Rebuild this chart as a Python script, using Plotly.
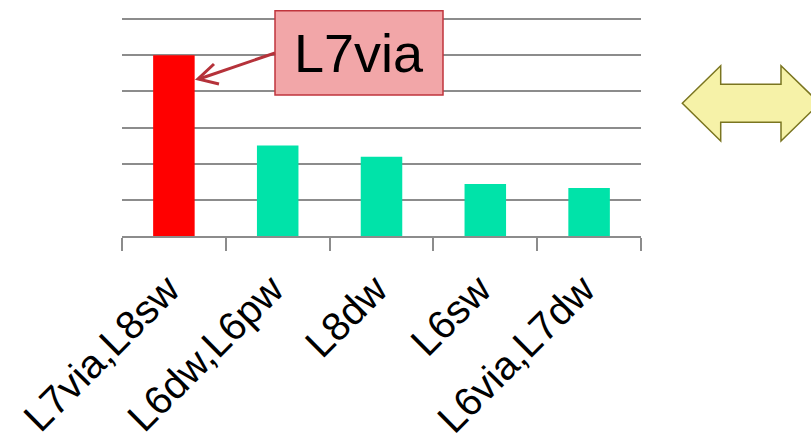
import plotly.graph_objects as go

# Chart data
categories = ["L7via,L8sw", "L6dw,L6pw", "L8dw", "L6sw", "L6via,L7dw"]
values = [5.0, 2.5, 2.19, 1.44, 1.33]
bar_colors = ["#FF0000", "#00E3A9", "#00E3A9", "#00E3A9", "#00E3A9"]
callout_text = "L7via"

# Figure size and plot-area margins (pixels)
W, H = 811, 440
ML, MR, MT, MB = 122, 170, 10, 204
GRAY = "#8C8C8C"
# headroom above the top gridline (6) so it is drawn at y = 19 px
Y_TOP = 6 * (H - MT - MB) / (H - MB - 19)


def px(x):
    """Pixel x -> paper x."""
    return (x - ML) / (W - ML - MR)


def py(y):
    """Pixel y (from top) -> paper y."""
    return (H - MB - y) / (H - MT - MB)


fig = go.Figure(
    go.Bar(
        x=categories,
        y=values,
        marker=dict(color=bar_colors, line=dict(width=0)),
        hoverinfo="x+y",
    )
)

fig.update_layout(
    width=W,
    height=H,
    margin=dict(l=ML, r=MR, t=MT, b=MB, pad=0, autoexpand=False),
    paper_bgcolor="white",
    plot_bgcolor="white",
    bargap=0.6,
    showlegend=False,
    font=dict(family="Arial, Liberation Sans, sans-serif", color="black"),
)

fig.update_xaxes(
    type="category",
    range=[-0.5, len(categories) - 0.5],
    automargin=False,
    showline=True,
    linecolor=GRAY,
    linewidth=2,
    ticks="outside",
    tickson="boundaries",
    ticklen=13,
    tickwidth=2,
    tickcolor=GRAY,
    tickangle=-45,
    tickfont=dict(size=40, color="black"),
    ticklabelstandoff=12,
    ticklabelshift=-6,
    showgrid=False,
    fixedrange=True,
)

fig.update_yaxes(
    range=[0, Y_TOP],
    automargin=False,
    tick0=0,
    dtick=1,
    showticklabels=False,
    showgrid=True,
    gridcolor=GRAY,
    gridwidth=2,
    zeroline=False,
    showline=False,
    fixedrange=True,
)

shapes = []

# Callout box
shapes.append(dict(
    type="rect", xref="paper", yref="paper",
    x0=px(275), x1=px(443), y0=py(95), y1=py(10.7),
    fillcolor="#F2A6A8", line=dict(color="#C0353D", width=1.5), layer="above",
))

# Callout arrow: shaft and open head
ARROW = "#B5323A"
shapes.append(dict(
    type="line", xref="paper", yref="paper",
    x0=px(275), y0=py(53), x1=px(199), y1=py(79),
    line=dict(color=ARROW, width=3), layer="above",
))
shapes.append(dict(
    type="path", xref="paper", yref="paper",
    path=(f"M {px(214)} {py(64)} L {px(198)} {py(79)} L {px(219)} {py(84)}"),
    line=dict(color=ARROW, width=3), layer="above",
))

# Yellow double-headed arrow on the right
pts = [(682.3, 103.3), (720.7, 65.7), (720.7, 84.3), (781, 84.3), (781, 65.7),
       (819.7, 103.3), (781, 141), (781, 122.3), (720.7, 122.3), (720.7, 141)]
path = "M " + " L ".join(f"{px(x)} {py(y)}" for x, y in pts) + " Z"
shapes.append(dict(
    type="path", xref="paper", yref="paper", path=path,
    fillcolor="#F6F2A8", line=dict(color="#7A7520", width=1.5), layer="above",
))

fig.update_layout(shapes=shapes)

fig.add_annotation(
    xref="paper", yref="paper",
    x=px(359), y=py(52.5),
    text=callout_text,
    showarrow=False,
    font=dict(size=54, color="black", family="Arial, Liberation Sans, sans-serif"),
    xanchor="center", yanchor="middle",
)

fig.write_html("out.html")
